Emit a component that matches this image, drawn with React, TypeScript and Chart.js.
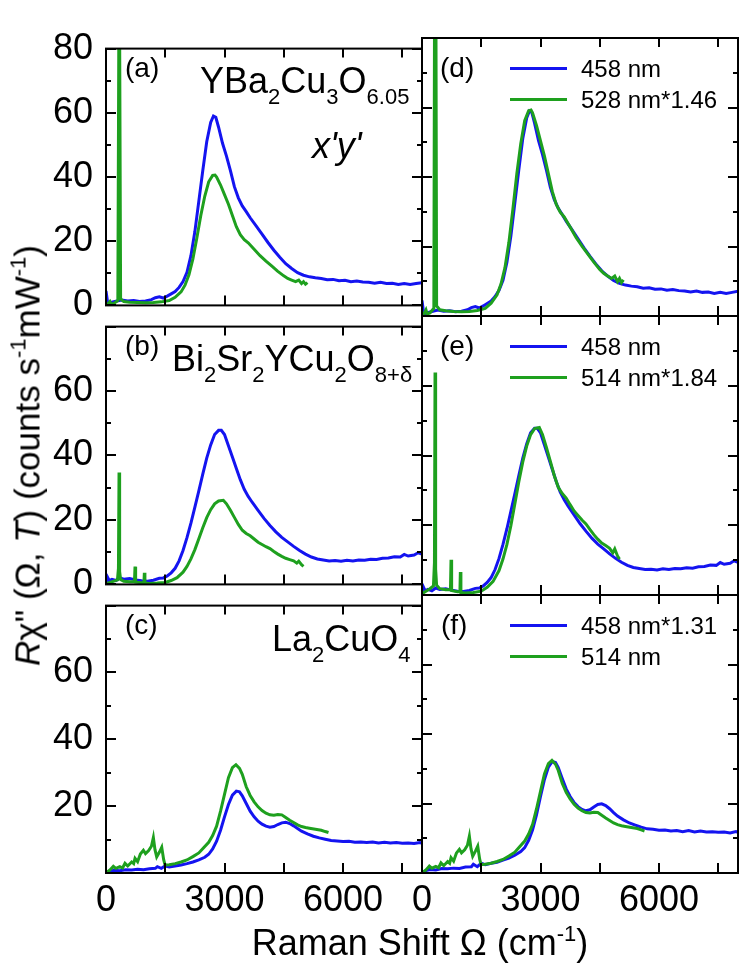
import React, { useEffect, useRef } from "react";
import { Chart, registerables } from "chart.js";

Chart.register(...registerables);

type Pt = [number, number];

// ---------- axes ----------
const X_MIN = 0;
const X_MAX = 8000;
const Y_MIN = 0;
const Y_MAX = 80;
const xTickValues = [0, 1500, 3000, 4500, 6000, 7500];
const xLabelValues = [0, 3000, 6000];
const yTickValues = [0, 10, 20, 30, 40, 50, 60, 70, 80];
const yLabelsTop = [0, 20, 40, 60, 80];
const yLabelsMid = [0, 20, 40, 60];
const yLabelsBottom = [20, 40, 60];

// ---------- (a)/(d) YBa2Cu3O6.05 ----------
const blueYBCO: Pt[] = [
  [0, 4.5], [40, 1.0], [80, 0.4], [150, 1.0], [250, 1.3], [400, 1.7], [550, 1.4], [700, 1.5],
  [850, 1.2], [1000, 1.4], [1150, 1.8], [1250, 2.4], [1350, 2.7], [1450, 2.3], [1550, 2.9],
  [1650, 3.6], [1750, 4.3], [1850, 5.6], [1950, 7.4], [2050, 10.3], [2150, 15.5], [2250, 23],
  [2350, 32.5], [2450, 42], [2550, 51], [2650, 57], [2720, 59], [2780, 58.6], [2850, 55.5],
  [2950, 50.5], [3050, 46.5], [3150, 42], [3250, 37], [3350, 33.5], [3450, 31], [3550, 29.2],
  [3650, 27.3], [3800, 24.8], [3950, 22.2], [4100, 19.6], [4250, 17.2], [4400, 15], [4550, 13],
  [4700, 11.5], [4850, 10.2], [5000, 9.4], [5150, 8.9], [5300, 8.6], [5450, 8.4], [5600, 8.0],
  [5750, 8.1], [5900, 7.7], [6050, 7.8], [6200, 7.4], [6350, 7.6], [6500, 7.3], [6650, 7.2],
  [6800, 6.9], [6950, 7.2], [7100, 6.8], [7250, 6.9], [7400, 6.5], [7550, 6.8], [7700, 6.5],
  [7850, 6.8], [8000, 7.1],
];
const green528YBCO: Pt[] = [
  [0, 0.3], [50, 0.5], [100, 1.2], [130, 0.4], [200, 0.6], [300, 1.5], [335, 120], [370, 2.0],
  [450, 1.2], [600, 1.0], [800, 0.9], [1000, 0.8], [1200, 0.9], [1400, 1.1], [1600, 1.5],
  [1750, 2.5], [1900, 4.2], [2000, 6.3], [2100, 9.5], [2200, 14.5], [2300, 21], [2400, 28],
  [2500, 34], [2600, 38.5], [2700, 40.5], [2760, 40.6], [2800, 40], [2900, 37.5], [3000, 34.5],
  [3100, 31.5], [3200, 28], [3300, 24.5], [3400, 22], [3500, 20.5], [3600, 19.5], [3750, 17.5],
  [3900, 15.5], [4050, 13.8], [4200, 12.2], [4350, 10.6], [4500, 9.2], [4600, 8.4], [4700, 7.9],
  [4800, 7.4], [4880, 7.9], [4950, 6.8], [5000, 7.4], [5050, 6.6], [5100, 7.1],
];
const green528x146YBCO: Pt[] = [
  [0, 0.4], [50, 0.7], [100, 1.8], [130, 0.6], [200, 0.9], [300, 2.2], [335, 175], [370, 2.9],
  [450, 1.8], [600, 1.5], [800, 1.3], [1000, 1.2], [1200, 1.3], [1400, 1.6], [1600, 2.2],
  [1750, 3.7], [1900, 6.1], [2000, 9.2], [2100, 13.9], [2200, 21.2], [2300, 30.7], [2400, 40.9],
  [2500, 49.6], [2600, 56.2], [2700, 59.1], [2760, 59.3], [2800, 58.4], [2900, 54.8], [3000, 50.4],
  [3100, 46], [3200, 40.9], [3300, 35.8], [3400, 32.1], [3500, 29.9], [3600, 28.5], [3750, 25.6],
  [3900, 22.6], [4050, 20.1], [4200, 17.8], [4350, 15.5], [4500, 13.4], [4600, 12.3], [4700, 11.5],
  [4800, 10.8], [4880, 11.5], [4950, 9.9], [5000, 10.8], [5050, 9.6], [5100, 10.4],
];

// ---------- (b)/(e) Bi2Sr2YCu2O8+d ----------
const blueBi: Pt[] = [
  [0, 0.5], [40, 2.2], [80, 1.2], [150, 1.6], [250, 1.2], [350, 2.0], [450, 1.6], [600, 1.8],
  [750, 1.4], [900, 1.1], [1050, 1.0], [1200, 1.3], [1350, 1.9], [1450, 2.0], [1550, 2.6],
  [1650, 3.6], [1750, 5.0], [1850, 7.3], [1950, 10.5], [2050, 14.5], [2150, 19], [2250, 24],
  [2350, 29], [2450, 34.2], [2550, 39.2], [2650, 43.3], [2750, 46.5], [2850, 47.8], [2920, 47.8],
  [3000, 46.5], [3100, 43], [3200, 39.5], [3300, 36], [3400, 32.5], [3500, 29.5], [3600, 27.3],
  [3700, 25.5], [3850, 23], [4000, 20.5], [4150, 18.3], [4300, 16.3], [4450, 14.6], [4600, 13.2],
  [4750, 11.8], [4900, 10.5], [5050, 9.4], [5200, 8.5], [5350, 7.9], [5500, 7.6], [5650, 7.3],
  [5800, 7.4], [5950, 7.2], [6100, 7.5], [6250, 7.3], [6400, 7.6], [6550, 7.5], [6700, 7.8],
  [6850, 7.7], [7000, 8.1], [7150, 8.2], [7300, 8.6], [7450, 8.5], [7550, 9.3], [7650, 8.8],
  [7800, 9.1], [7900, 9.8], [8000, 9.4],
];
const green514Bi: Pt[] = [
  [0, 0.2], [100, 0.6], [200, 1.0], [290, 1.4], [315, 5], [330, 34.7], [345, 4], [370, 1.5],
  [450, 1.0], [600, 0.8], [720, 0.8], [735, 5.5], [750, 0.7], [900, 0.5], [960, 0.5], [971, 3.6],
  [985, 0.4], [1100, 0.3], [1300, 0.4], [1500, 0.6], [1650, 1.2], [1800, 2.1], [1950, 3.8],
  [2050, 5.6], [2150, 7.9], [2250, 10.8], [2350, 14.2], [2450, 17.6], [2550, 20.7], [2650, 23.2],
  [2750, 25], [2850, 25.9], [2970, 26.1], [3050, 25], [3150, 23], [3250, 20.8], [3350, 18.6],
  [3450, 16.8], [3550, 15.8], [3650, 15.1], [3750, 14.1], [3850, 13.1], [3950, 12.4], [4050, 11.7],
  [4150, 11.1], [4250, 10.2], [4350, 9.4], [4450, 8.7], [4550, 8.1], [4650, 7.7], [4750, 7.3],
  [4830, 6.6], [4880, 7.2], [4950, 6.1], [5000, 5.6],
];
const green514x184Bi: Pt[] = [
  [0, 0.4], [100, 1.1], [200, 1.8], [290, 2.6], [315, 9.2], [330, 63.8], [345, 7.4], [370, 2.8],
  [450, 1.8], [600, 1.5], [720, 1.5], [735, 10.1], [750, 1.3], [900, 0.9], [960, 0.9], [971, 6.6],
  [985, 0.7], [1100, 0.6], [1300, 0.7], [1500, 1.1], [1650, 2.2], [1800, 3.9], [1950, 7.0],
  [2050, 10.3], [2150, 14.5], [2250, 19.9], [2350, 26.1], [2450, 32.4], [2550, 38.1], [2650, 42.7],
  [2750, 46], [2850, 47.7], [2970, 48], [3050, 46], [3150, 42.3], [3250, 38.3], [3350, 34.2],
  [3450, 30.9], [3550, 29.1], [3650, 27.8], [3750, 25.9], [3850, 24.1], [3950, 22.8], [4050, 21.5],
  [4150, 20.4], [4250, 18.8], [4350, 17.3], [4450, 16], [4550, 14.9], [4650, 14.2], [4750, 13.4],
  [4830, 12.1], [4880, 13.2], [4950, 11.2], [5000, 10.3],
];

// ---------- (c)/(f) La2CuO4 ----------
const blueLa: Pt[] = [
  [0, 0], [100, 0.5], [200, 0.8], [350, 0.7], [500, 1.0], [650, 0.9], [800, 1.1], [950, 1.0],
  [1100, 1.3], [1250, 1.4], [1300, 1.9], [1400, 1.4], [1500, 2.1], [1600, 1.8], [1750, 2.1],
  [1900, 2.4], [2050, 2.8], [2200, 3.3], [2350, 3.9], [2500, 4.7], [2600, 5.6], [2700, 7.2],
  [2800, 9.5], [2900, 12.8], [3000, 16.8], [3100, 20.5], [3200, 23.3], [3300, 24.5], [3380, 24.3],
  [3450, 23.1], [3550, 20.8], [3650, 18.5], [3750, 16.8], [3850, 15.5], [3950, 14.6], [4050, 14],
  [4150, 13.7], [4250, 13.9], [4350, 14.5], [4450, 15], [4550, 15.2], [4650, 14.8], [4750, 14.1],
  [4850, 13.3], [4950, 12.5], [5100, 11.7], [5250, 11], [5400, 10.5], [5550, 10.1], [5700, 9.7],
  [5850, 9.6], [6000, 9.4], [6150, 9.5], [6300, 9.2], [6450, 9.3], [6600, 9.1], [6750, 9.3],
  [6900, 9.0], [7050, 9.2], [7200, 9.0], [7350, 9.1], [7500, 8.9], [7650, 9.0], [7800, 8.8],
  [7950, 9.1], [8000, 8.9],
];
const blue458x131La: Pt[] = [
  [0, 0], [100, 0.7], [200, 1.0], [350, 0.9], [500, 1.3], [650, 1.2], [800, 1.4], [950, 1.3],
  [1100, 1.7], [1250, 1.8], [1300, 2.5], [1400, 1.8], [1500, 2.8], [1600, 2.4], [1750, 2.8],
  [1900, 3.1], [2050, 3.7], [2200, 4.3], [2350, 5.1], [2500, 6.2], [2600, 7.3], [2700, 9.4],
  [2800, 12.4], [2900, 16.8], [3000, 22], [3100, 26.9], [3200, 30.5], [3300, 32.1], [3380, 31.8],
  [3450, 30.3], [3550, 27.2], [3650, 24.2], [3750, 22], [3850, 20.3], [3950, 19.1], [4050, 18.3],
  [4150, 17.9], [4250, 18.2], [4350, 19], [4450, 19.7], [4550, 19.9], [4650, 19.4], [4750, 18.5],
  [4850, 17.4], [4950, 16.4], [5100, 15.3], [5250, 14.4], [5400, 13.8], [5550, 13.2], [5700, 12.7],
  [5850, 12.6], [6000, 12.3], [6150, 12.4], [6300, 12.1], [6450, 12.2], [6600, 11.9], [6750, 12.2],
  [6900, 11.8], [7050, 12.1], [7200, 11.8], [7350, 11.9], [7500, 11.7], [7650, 11.8], [7800, 11.5],
  [7950, 11.9], [8000, 11.7],
];
const green514La: Pt[] = [
  [0, 0], [100, 0.9], [186, 2.0], [250, 1.4], [350, 1.9], [420, 1.5], [481, 2.9], [550, 2.1],
  [650, 3.3], [700, 2.8], [735, 4.4], [800, 3.4], [870, 5.7], [946, 6.8], [1000, 5.8], [1080, 6.7],
  [1150, 8.0], [1199, 10.6], [1240, 7.0], [1284, 4.8], [1350, 6.2], [1411, 7.7], [1460, 4.0],
  [1495, 2.4], [1600, 2.5], [1750, 2.8], [1900, 3.3], [2050, 3.9], [2200, 4.9], [2350, 6.0],
  [2466, 7.5], [2600, 9.2], [2700, 11.2], [2800, 14], [2900, 18.5], [3000, 23.5], [3100, 28.5],
  [3200, 31.5], [3290, 32.4], [3380, 31.3], [3450, 29.5], [3550, 25.8], [3650, 23.2], [3750, 21.3],
  [3850, 19.8], [3950, 18.7], [4050, 17.9], [4150, 17.4], [4250, 17.3], [4350, 17.5], [4450, 17.4],
  [4550, 16.6], [4650, 15.8], [4750, 15.1], [4850, 14.4], [4950, 13.9], [5050, 13.6], [5150, 13.4],
  [5300, 13.1], [5450, 12.8], [5550, 12.4], [5633, 12.1],
];

// ---------- legend texts ----------
const legendD = ["458 nm", "528 nm*1.46"];
const legendE = ["458 nm", "514 nm*1.84"];
const legendF = ["458 nm*1.31", "514 nm"];

// ---------- styling ----------
const BLUE = "#1414f0";
const GREEN = "#1ea01e";
const FONT = "'Liberation Sans', Arial, Helvetica, sans-serif";
const ROW_TOPS = [38, 316, 595];
const ROW_H = [278, 279, 278];
const TOP_PAD = 24;
const COL_CANVAS_LEFT = [0, 316];
const CANVAS_W = 431;
const Y_AXIS_W = 106;

const framePlugin = {
  id: "frameTicks",
  afterDraw(chart: any) {
    const { ctx, chartArea: a, scales } = chart;
    const xs = scales.x;
    const ys = scales.y;
    ctx.save();
    ctx.strokeStyle = "#000";
    ctx.lineWidth = 2;
    ctx.beginPath();
    for (const v of xTickValues) {
      const px = Math.round(xs.getPixelForValue(v));
      ctx.moveTo(px, a.bottom);
      ctx.lineTo(px, a.bottom - 10);
      ctx.moveTo(px, a.top);
      ctx.lineTo(px, a.top + 9);
    }
    for (const v of yTickValues) {
      const py = Math.round(ys.getPixelForValue(v));
      const len = v % 20 === 0 ? 10 : 5;
      ctx.moveTo(a.left, py);
      ctx.lineTo(a.left + len, py);
      ctx.moveTo(a.right, py);
      ctx.lineTo(a.right - len, py);
    }
    ctx.stroke();
    ctx.strokeRect(a.left, a.top, a.right - a.left, a.bottom - a.top);
    ctx.restore();
  },
};

type PanelProps = {
  col: number;
  row: number;
  blue: Pt[];
  green: Pt[];
  yLabels: number[];
};

function Panel({ col, row, blue, green, yLabels }: PanelProps) {
  const ref = useRef<HTMLCanvasElement>(null);
  const plotTop = ROW_TOPS[row];
  const plotH = ROW_H[row];
  const bottomH = row === 2 ? 70 : 24;
  const h = TOP_PAD + plotH + bottomH;
  const left = COL_CANVAS_LEFT[col];
  const w = CANVAS_W;
  const padRight = 9;

  useEffect(() => {
    const toXY = (arr: Pt[]) => arr.map(([x, y]) => ({ x, y }));
    const chart = new Chart(ref.current as HTMLCanvasElement, {
      type: "line",
      data: {
        datasets: [
          {
            data: toXY(green),
            borderColor: GREEN,
            borderWidth: 3,
            pointRadius: 0,
            tension: 0,
            fill: false,
          },
          {
            data: toXY(blue),
            borderColor: BLUE,
            borderWidth: 3,
            pointRadius: 0,
            tension: 0,
            fill: false,
          },
        ],
      },
      options: {
        responsive: false,
        animation: false,
        devicePixelRatio: 1,
        events: [],
        layout: { padding: { top: TOP_PAD, right: padRight, left: 0, bottom: 0 } },
        plugins: { legend: { display: false }, tooltip: { enabled: false }, title: { display: false } },
        scales: {
          x: {
            type: "linear",
            min: X_MIN,
            max: X_MAX,
            grid: { display: false, drawTicks: false },
            border: { display: false },
            ticks: {
              display: row === 2,
              color: "#000",
              font: { family: FONT, size: 36 },
              padding: 6,
              maxRotation: 0,
              autoSkip: false,
              callback: (v: any) => String(v),
            },
            afterBuildTicks: (s: any) => {
              s.ticks = xLabelValues.map((v) => ({ value: v }));
            },
            afterFit: (s: any) => {
              s.height = bottomH;
            },
          },
          y: {
            type: "linear",
            min: Y_MIN,
            max: Y_MAX,
            grid: { display: false, drawTicks: false },
            border: { display: false },
            ticks: {
              display: col === 0,
              color: "#000",
              font: { family: FONT, size: 36 },
              padding: 13,
              autoSkip: false,
              callback: (v: any) => String(v),
            },
            afterBuildTicks: (s: any) => {
              s.ticks = yLabels.map((v) => ({ value: v }));
            },
            afterFit: (s: any) => {
              s.width = Y_AXIS_W;
            },
          },
        },
      } as any,
      plugins: [framePlugin],
    });
    return () => chart.destroy();
  }, []);

  return (
    <canvas
      ref={ref}
      width={w}
      height={h}
      style={{ position: "absolute", left, top: plotTop - TOP_PAD, width: w, height: h }}
    />
  );
}

// baseline-positioned text
function Txt({
  x,
  base,
  size,
  italic,
  children,
}: {
  x: number;
  base: number;
  size: number;
  italic?: boolean;
  children: React.ReactNode;
}) {
  return (
    <div
      style={{
        position: "absolute",
        left: x,
        top: base - 0.8465 * size,
        fontFamily: FONT,
        fontSize: size,
        lineHeight: 1,
        fontStyle: italic ? "italic" : "normal",
        whiteSpace: "nowrap",
        color: "#000",
      }}
    >
      {children}
    </div>
  );
}

const Sub = ({ children }: { children: React.ReactNode }) => (
  <span style={{ fontSize: 22, position: "relative", top: 11 }}>{children}</span>
);
const Sup = ({ children }: { children: React.ReactNode }) => (
  <span style={{ fontSize: 22, position: "relative", top: -14 }}>{children}</span>
);

function Legend({ top, labels }: { top: number; labels: string[] }) {
  const rows = [
    { y: top + 30, color: BLUE, label: labels[0] },
    { y: top + 61, color: GREEN, label: labels[1] },
  ];
  return (
    <>
      {rows.map((r, i) => (
        <React.Fragment key={i}>
          <div
            style={{
              position: "absolute",
              left: 510,
              top: r.y - 1.5,
              width: 57,
              height: 3,
              background: r.color,
            }}
          />
          <Txt x={581} base={r.y + 9.5} size={24}>
            {r.label}
          </Txt>
        </React.Fragment>
      ))}
    </>
  );
}

export default function App() {
  return (
    <div
      style={{
        position: "absolute",
        left: 0,
        top: 0,
        width: 747,
        height: 968,
        background: "#fff",
        overflow: "hidden",
      }}
    >
      <Panel col={0} row={0} blue={blueYBCO} green={green528YBCO} yLabels={yLabelsTop} />
      <Panel col={0} row={1} blue={blueBi} green={green514Bi} yLabels={yLabelsMid} />
      <Panel col={0} row={2} blue={blueLa} green={green514La} yLabels={yLabelsBottom} />
      <Panel col={1} row={0} blue={blueYBCO} green={green528x146YBCO} yLabels={yLabelsTop} />
      <Panel col={1} row={1} blue={blueBi} green={green514x184Bi} yLabels={yLabelsMid} />
      <Panel col={1} row={2} blue={blue458x131La} green={green514La} yLabels={yLabelsBottom} />

      {/* panel letters */}
      <Txt x={125} base={ROW_TOPS[0] + 39.5} size={28}>(a)</Txt>
      <Txt x={125} base={ROW_TOPS[1] + 39.5} size={28}>(b)</Txt>
      <Txt x={125} base={ROW_TOPS[2] + 39.5} size={28}>(c)</Txt>
      <Txt x={440} base={ROW_TOPS[0] + 39.5} size={28}>(d)</Txt>
      <Txt x={440} base={ROW_TOPS[1] + 39.5} size={28}>(e)</Txt>
      <Txt x={441} base={ROW_TOPS[2] + 39.5} size={28}>(f)</Txt>

      {/* compounds */}
      <Txt x={200} base={93} size={36}>
        YBa<Sub>2</Sub>Cu<Sub>3</Sub>O<Sub>6.05</Sub>
      </Txt>
      <Txt x={312} base={158} size={36} italic>
        x'y'
      </Txt>
      <Txt x={172} base={371} size={36}>
        Bi<Sub>2</Sub>Sr<Sub>2</Sub>YCu<Sub>2</Sub>O<Sub>8+δ</Sub>
      </Txt>
      <Txt x={272} base={651} size={36}>
        La<Sub>2</Sub>CuO<Sub>4</Sub>
      </Txt>

      {/* legends */}
      <Legend top={ROW_TOPS[0]} labels={legendD} />
      <Legend top={ROW_TOPS[1]} labels={legendE} />
      <Legend top={ROW_TOPS[2]} labels={legendF} />

      {/* x-axis title */}
      <div
        style={{
          position: "absolute",
          left: 120,
          width: 600,
          top: 955 - 0.8465 * 36,
          textAlign: "center",
          fontFamily: FONT,
          fontSize: 36,
          lineHeight: 1,
          whiteSpace: "nowrap",
          color: "#000",
        }}
      >
        Raman Shift Ω (cm<Sup>-1</Sup>)
      </div>

      {/* y-axis title */}
      <div
        style={{
          position: "absolute",
          left: 26.5 - 300,
          width: 600,
          top: 455 - 17.5,
          height: 35,
          textAlign: "center",
          fontFamily: FONT,
          fontSize: 35,
          lineHeight: "35px",
          whiteSpace: "nowrap",
          color: "#000",
          transform: "rotate(-90deg)",
          transformOrigin: "50% 50%",
        }}
      >
        <i>R</i>χ" (Ω, <i>T</i>) (counts s<Sup>-1</Sup>mW<Sup>-1</Sup>)
      </div>
    </div>
  );
}
